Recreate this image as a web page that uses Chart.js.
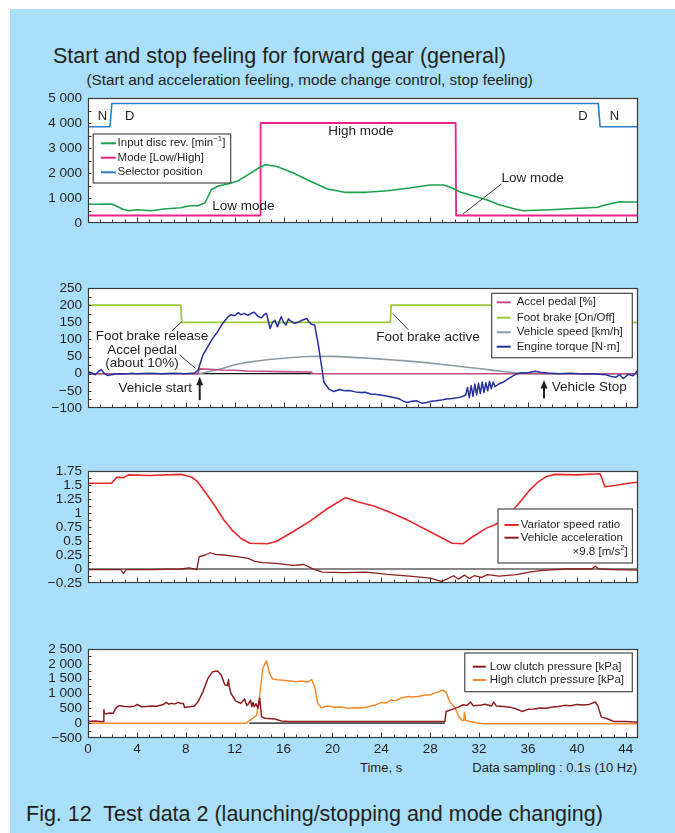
<!DOCTYPE html>
<html>
<head>
<meta charset="utf-8">
<script src="https://cdn.jsdelivr.net/npm/chart.js@4/dist/chart.umd.min.js"></script>
<style>
body { margin: 0; background: #fff; }
#page { position: relative; width: 675px; height: 833px; overflow: hidden; font-family: "Liberation Sans", Arial, Helvetica, sans-serif; color: #231f20; }
#blue { position: absolute; left: 10px; top: 9px; right: 0; bottom: 0; background: #a9dff8; }
canvas { position: absolute; left: 0; top: 0; }
.txt { position: absolute; white-space: nowrap; line-height: 1; }
</style>
</head>
<body>
<div id="page">
  <div id="blue"></div>
  <div class="txt" style="left:53px;top:46px;font-size:21.5px;">Start and stop feeling for forward gear (general)</div>
  <div class="txt" style="left:86.5px;top:72px;font-size:15.3px;">(Start and acceleration feeling, mode change control, stop feeling)</div>
  <div class="txt" style="left:360px;top:761px;font-size:13px;">Time, s</div>
  <div class="txt" style="right:38px;top:761px;font-size:13px;">Data sampling : 0.1s (10 Hz)</div>
  <div class="txt" style="left:26px;top:803.5px;font-size:21.5px;">Fig. 12&nbsp; Test data 2 (launching/stopping and mode changing)</div>
  <canvas id="c1" width="675" height="833"></canvas>
  <canvas id="c2" width="675" height="833"></canvas>
  <canvas id="c3" width="675" height="833"></canvas>
  <canvas id="c4" width="675" height="833"></canvas>
</div>
<script>
// ---- data (time in s) ----
const timeTicks = [0, 4, 8, 12, 16, 20, 24, 28, 32, 36, 40, 44];

// panel 1
const p1Ticks = [0, 1000, 2000, 3000, 4000, 5000];
const selT = [0, 1.8, 1.95, 41.75, 41.9, 45];
const selV = [3850, 3850, 4780, 4780, 3850, 3850];
const modeT = [0, 14.08, 14.12, 30.08, 30.12, 45];
const modeV = [300, 300, 4000, 4000, 300, 300];
const rpmT = [0, 1.0, 1.93, 2.36, 2.8, 3.3, 4.1, 5.2, 6.2, 7.6, 8.3, 9.0, 9.56, 10.1, 10.6, 11.5, 12.2, 13.1, 13.96, 14.5, 15.4, 16.8, 18.2, 19.6, 21.0, 22.75, 24.5, 26.3, 28.0, 29.1, 29.8, 30.5, 31.5, 32.6, 33.65, 34.7, 35.6, 36.6, 37.9, 39.3, 40.7, 41.7, 42.4, 43.5, 44.3, 45];
const rpmV = [747, 750, 760, 667, 560, 493, 533, 493, 560, 613, 693, 693, 800, 1333, 1467, 1573, 1667, 1933, 2200, 2333, 2267, 2000, 1667, 1360, 1227, 1227, 1293, 1400, 1520, 1520, 1400, 1227, 1093, 933, 733, 587, 493, 507, 533, 573, 600, 627, 733, 853, 840, 840];

// panel 2
const p2Ticks = [-100, -50, 0, 50, 100, 150, 200, 250];
const brakeT = [0, 7.6, 7.66, 24.74, 24.8, 41.7, 41.76, 45];
const brakeV = [200, 200, 150, 150, 200, 200, 150, 150];
const pedalT = [0, 9.0, 9.1, 10, 11, 12, 13, 14, 16, 18, 18.3, 18.35, 45];
const pedalV = [0, 0, 14, 13, 11, 10, 8, 7, 6, 5, 5, 0, 0];
const speedT = [0, 9, 9.5, 10, 11, 12, 13, 14, 15, 16, 17, 18, 19, 20, 21, 22, 23, 24, 25, 26, 27, 28, 29, 30, 31, 32, 33, 34, 35, 36, 37, 45];
const speedV = [0, 0, 3, 7, 15, 26, 33, 38, 42, 45, 48, 50, 51, 50.5, 49, 47, 45, 42.5, 40, 37.5, 34.5, 31, 27, 23, 19, 15, 10.5, 6.5, 3, 1, 0, 0];
const torqueT = [0, 0.3, 0.6, 0.9, 1.1, 1.3, 1.6, 2.0, 2.5, 3.0,
  3.5, 4.0, 5.0, 6.0, 7.0, 8.0, 8.7, 9.0, 9.4, 9.8,
  10.2, 10.6, 11.0, 11.45, 11.7, 12.0, 12.3, 12.5, 12.8, 13.1,
  13.4, 13.6, 13.9, 14.2, 14.4, 14.6, 14.9, 15.1, 15.3, 15.5,
  15.8, 16.0, 16.2, 16.4, 16.6, 16.9, 17.2, 17.5, 17.9, 18.1,
  18.3, 18.55, 18.8, 19.1, 19.3, 19.7, 20.1, 20.6, 21.0, 21.4,
  21.9, 22.3, 22.7, 23.1, 23.5, 23.9, 24.3, 24.7, 25.1, 25.5,
  25.8, 26.1, 26.5, 26.9, 27.3, 27.7, 28.1, 28.5, 28.9, 29.3,
  29.8, 30.4, 30.75, 30.9, 31.05, 31.2, 31.35, 31.5, 31.65, 31.8,
  31.95, 32.1, 32.25, 32.4, 32.55, 32.7, 32.85, 33.0, 33.15, 33.3,
  33.6, 34.0, 34.6, 35.1, 35.5, 35.9, 36.3, 36.6, 37.0, 37.6,
  38.5, 39.5, 40.5, 41.5, 42.0, 42.4, 42.8, 43.2, 43.5, 43.8,
  44.2, 44.6, 45];
const torqueV = [6, 2, -3, 8, 12, 2, -5, -2, 0, -1,
  1, 0, 1, 0, 1, 0, 2, 10, 54, 79,
  103, 122, 146, 166, 172, 169, 178, 172, 176, 170,
  177, 179, 168, 163, 172, 176, 132, 150, 156, 137,
  166, 150, 142, 160, 153, 147, 150, 156, 161, 150,
  144, 142, 93, 25, -25, -44, -52, -46, -50, -49,
  -53, -55, -54, -59, -60, -62, -64, -67, -70, -74,
  -80, -84, -80, -79, -86, -84, -80, -79, -77, -74,
  -72, -69, -65, -62, -40, -70, -35, -66, -30, -62,
  -28, -58, -24, -55, -26, -50, -22, -44, -24, -38,
  -30, -24, -10, 0, 3, 2, 5, 7, 4, 2,
  0, 1, -1, 0, -2, -3, -8, -10, -3, -14,
  -2, -6, 10];
const zero2T = [8.2, 18.3];

// panel 3
const p3Ticks = [-0.25, 0, 0.25, 0.5, 0.75, 1, 1.25, 1.5, 1.75];
const ratioT = [0, 1.93, 2.36, 2.9, 3.3, 5, 7.6, 8.0, 8.5, 9.0, 9.7, 10.4, 11.1, 11.85, 12.55, 13.25, 14.66, 15.4, 16.8, 18.2, 19.6, 21.06, 22.05, 23.45, 24.86, 26.27, 27.67, 29.08, 29.78, 30.66, 31.5, 32.6, 33.3, 34.0, 34.7, 35.4, 36.1, 36.8, 37.5, 38.2, 40, 41.9, 42.3, 43.1, 44.2, 45];
const ratioV = [1.53, 1.53, 1.64, 1.63, 1.68, 1.67, 1.69, 1.67, 1.64, 1.55, 1.34, 1.12, 0.88, 0.68, 0.54, 0.46, 0.45, 0.49, 0.67, 0.86, 1.08, 1.275, 1.2, 1.12, 1.0, 0.86, 0.7, 0.54, 0.46, 0.45, 0.58, 0.73, 0.79, 0.88, 1.03, 1.21, 1.4, 1.55, 1.65, 1.69, 1.68, 1.70, 1.47, 1.49, 1.53, 1.55];
const accelT = [0, 2.7, 2.9, 3.1, 5, 7.6, 8.3, 8.9, 9.1, 9.6, 10.0, 10.4, 11.1, 12.2, 13.1, 13.6, 14.3, 15.4, 16.8, 17.65, 18.5, 19.2, 21.0, 22.75, 24.5, 26.3, 28.0, 28.9, 29.4, 29.9, 30.3, 30.8, 31.2, 31.6, 32.2, 32.7, 33.65, 35.05, 36.1, 37.2, 39, 41.2, 41.5, 41.8, 43, 45];
const accelV = [-0.01, -0.01, -0.085, -0.01, -0.01, 0, 0.02, -0.01, 0.22, 0.25, 0.29, 0.26, 0.25, 0.22, 0.19, 0.14, 0.115, 0.1, 0.066, 0.08, -0.006, -0.055, -0.066, -0.055, -0.097, -0.127, -0.163, -0.22, -0.175, -0.12, -0.18, -0.11, -0.17, -0.12, -0.15, -0.1, -0.127, -0.1, -0.055, -0.024, 0, 0, 0.05, 0, -0.01, -0.02];
const zero3T = [0, 45];

// panel 4
const p4Ticks = [-500, 0, 500, 1000, 1500, 2000, 2500];
const lowT = [0, 0.5, 1.0, 1.25, 1.3, 1.35, 1.5, 1.8, 2.05, 2.2,
  2.4, 2.6, 3.0, 3.4, 3.8, 4.0, 4.4, 4.8, 5.2, 5.6,
  6.0, 6.2, 6.4, 6.6, 6.8, 7.1, 7.4, 7.6, 7.8, 7.9,
  8.3, 8.7, 9.0, 9.4, 9.8, 10.2, 10.6, 10.9, 11.2, 11.4,
  11.5, 11.55, 11.7, 12.1, 12.5, 12.8, 13.0, 13.1, 13.3, 13.4,
  13.5, 13.6, 13.75, 13.9, 14.05, 14.2, 14.45, 15.3, 15.8, 16.4,
  20, 25, 29.2, 29.3, 29.8, 30.3, 30.7, 31.0, 31.3, 31.5,
  32.0, 32.5, 33.0, 33.2, 33.4, 34.0, 34.5, 35.0, 35.5, 36.0,
  36.5, 37.0, 37.5, 38.0, 38.5, 39.0, 39.5, 40.0, 40.5, 41.0,
  41.5, 41.7, 42.0, 42.5, 43.0, 44.0, 45];
const lowV = [60, 70, 60, 60, 450, 330, 320, 340, 330, 450,
  560, 590, 560, 550, 570, 630, 555, 560, 580, 570,
  612, 640, 700, 640, 667, 650, 700, 660, 667, 530,
  550, 580, 720, 1055, 1500, 1737, 1760, 1625, 1290, 1265,
  1460, 1250, 1000, 745, 667, 810, 600, 630, 780, 555,
  700, 555, 650, 500, 840, 220, 165, 140, 74, 60,
  60, 60, 55, 395, 465, 540, 620, 600, 712, 590,
  600, 640, 577, 712, 580, 565, 540, 486, 396, 465,
  480, 510, 500, 543, 560, 600, 590, 633, 610, 633,
  712, 600, 204, 147, 57, 57, 34];
const highT = [0, 13.0, 13.1, 13.5, 13.8, 14.05, 14.3, 14.6, 14.85, 15.1,
  15.5, 16.4, 17.0, 17.5, 18.0, 18.3, 18.55, 18.8, 19.1, 19.6,
  20.2, 20.7, 21.3, 21.8, 22.4, 22.9, 23.5, 24.0, 24.4, 24.8,
  25.2, 25.6, 26.2, 26.5, 27.0, 27.5, 28.0, 28.5, 29.0, 29.3,
  29.6, 30.0, 30.3, 30.6, 30.75, 30.8, 30.9, 31.5, 32.3, 45];
const highV = [0, 0, 60, 170, 270, 950, 1850, 2100, 1680, 1490,
  1460, 1430, 1400, 1420, 1390, 1470, 1220, 667, 520, 580,
  540, 545, 500, 520, 510, 555, 610, 700, 680, 780,
  760, 850, 900, 880, 900, 940, 960, 1030, 1110, 1050,
  712, 540, 260, 90, 90, 370, 90, 34, -20, -20];
const zero4T = [13.2, 29.2];

// ---- drawing ----
const FONT = '"Liberation Sans", Arial, Helvetica, sans-serif';
const INK = '#231f20';
const W = 675, H = 833, PLOT_L = 88, PLOT_R = 638;
Chart.defaults.font.family = FONT;
Chart.defaults.color = INK;

const xy = (ts, vs) => ts.map((t, i) => ({ x: t, y: vs[i] }));

function fmtNum(v) {
  const a = Math.abs(v);
  const s = a >= 1000 ? String(a).replace(/\B(?=(\d{3})+(?!\d))/g, ' ') : String(+a.toFixed(2));
  return (v < 0 ? '\u2212' : '') + s;
}

// rich text: strings or {sup: '...'}
function partsWidth(ctx, parts, size) {
  let w = 0;
  parts.forEach(p => {
    ctx.font = (typeof p === 'string' ? size : size * 0.68) + 'px ' + FONT;
    w += ctx.measureText(typeof p === 'string' ? p : p.sup).width;
  });
  return w;
}
function drawParts(ctx, parts, x, y, size) {
  parts.forEach(p => {
    const sup = typeof p !== 'string';
    const s = sup ? p.sup : p;
    ctx.font = (sup ? size * 0.68 : size) + 'px ' + FONT;
    ctx.fillText(s, x, sup ? y - size * 0.35 : y);
    x += ctx.measureText(s).width;
  });
}

function framePlugin(p) {
  return {
    id: 'frame_' + p.id,
    beforeDraw(chart) {
      const a = chart.chartArea, ctx = chart.ctx;
      ctx.save();
      ctx.fillStyle = '#fff';
      ctx.fillRect(a.left, a.top, a.right - a.left, a.bottom - a.top);
      ctx.restore();
    },
    afterDatasetsDraw(chart) {
      const ctx = chart.ctx, a = chart.chartArea, sx = chart.scales.x, sy = chart.scales.y;
      const X = t => sx.getPixelForValue(t), Y = v => sy.getPixelForValue(v);
      ctx.save();
      ctx.strokeStyle = INK;
      ctx.fillStyle = INK;
      ctx.lineWidth = 0.9;
      (p.leaders || []).forEach(l => {
        ctx.beginPath();
        ctx.moveTo(X(l[0]), Y(l[1]));
        ctx.lineTo(X(l[2]), Y(l[3]));
        ctx.stroke();
      });
      (p.arrows || []).forEach(ar => {
        const x = X(ar[0]), y1 = Y(ar[1]), y2 = Y(ar[2]);
        ctx.lineWidth = 2;
        ctx.beginPath(); ctx.moveTo(x, y1); ctx.lineTo(x, y2 + 6); ctx.stroke();
        ctx.beginPath(); ctx.moveTo(x, y2); ctx.lineTo(x - 3.5, y2 + 8.5); ctx.lineTo(x + 3.5, y2 + 8.5); ctx.closePath(); ctx.fill();
      });
      ctx.textBaseline = 'middle';
      (p.notes || []).forEach(n => {
        ctx.font = (n.size || 13.5) + 'px ' + FONT;
        ctx.textAlign = n.align || 'center';
        ctx.fillText(n.s, X(n.t), Y(n.v));
      });

      const lg = p.legend;
      if (lg) {
        const lx = a.left + lg.x, ly = a.top + lg.y;
        ctx.fillStyle = '#fff';
        ctx.fillRect(lx, ly, lg.w, lg.h);
        ctx.strokeStyle = '#4a4a4a';
        ctx.lineWidth = 1.2;
        ctx.strokeRect(lx, ly, lg.w, lg.h);
        ctx.textAlign = 'left';
        lg.rows.forEach((r, i) => {
          const y = ly + lg.rowY[i];
          ctx.strokeStyle = r.color;
          ctx.lineWidth = 2;
          ctx.beginPath(); ctx.moveTo(lx + lg.line[0], y); ctx.lineTo(lx + lg.line[1], y); ctx.stroke();
          ctx.fillStyle = INK;
          drawParts(ctx, r.parts, lx + lg.text, y, 11.5);
        });
        (lg.extra || []).forEach(e => {
          ctx.fillStyle = INK;
          const w = partsWidth(ctx, e.parts, 11.5);
          drawParts(ctx, e.parts, lx + lg.w - e.right - w, ly + e.y, 11.5);
        });
      }

      // frame and inward ticks
      const L = Math.round(a.left) + 0.5, R = Math.round(a.right) - 0.5;
      const T = Math.round(a.top) + 0.5, B = Math.round(a.bottom) - 0.5;
      ctx.strokeStyle = '#3a3a3a';
      ctx.lineWidth = 1;
      ctx.beginPath();
      for (let t = 1; t < 45; t++) {
        const x = Math.round(X(t)) + 0.5;
        ctx.moveTo(x, B); ctx.lineTo(x, B - (t % 4 === 0 ? 5 : 3));
      }
      for (let v = p.min + p.minor; v < p.max - p.minor / 2; v += p.minor) {
        const y = Math.round(Y(v)) + 0.5;
        ctx.moveTo(L, y); ctx.lineTo(L + 3, y);
      }
      ctx.stroke();
      ctx.lineWidth = 1.2;
      ctx.strokeRect(L, T, R - L, B - T);
      ctx.restore();
    }
  };
}

function makePanel(p) {
  const datasets = p.series.map(s => ({
    data: xy(s.t, s.v),
    borderColor: s.color,
    borderWidth: s.width || 1.5,
    pointRadius: 0,
    tension: 0,
    fill: false,
    borderJoinStyle: 'round'
  }));
  const xAxisH = p.xLabels ? 22 : 0;
  return new Chart(document.getElementById(p.id), {
    type: 'line',
    data: { datasets },
    options: {
      responsive: false,
      animation: false,
      devicePixelRatio: 1,
      events: [],
      layout: { padding: { left: 0, right: W - PLOT_R, top: p.top, bottom: H - p.bottom - xAxisH } },
      plugins: { legend: { display: false }, tooltip: { enabled: false } },
      scales: {
        x: {
          type: 'linear', min: 0, max: 45, display: p.xLabels,
          grid: { display: false, drawTicks: false }, border: { display: false },
          afterBuildTicks: s => { s.ticks = timeTicks.map(v => ({ value: v })); },
          afterFit: s => { s.height = xAxisH; },
          ticks: { padding: 3, font: { size: 13.5 }, color: INK, maxRotation: 0, autoSkip: false }
        },
        y: {
          type: 'linear', min: p.min, max: p.max,
          grid: { display: false, drawTicks: false }, border: { display: false },
          afterBuildTicks: s => { s.ticks = p.ticks.map(v => ({ value: v })); },
          afterFit: s => { s.width = PLOT_L; },
          ticks: { padding: 6, font: { size: 13.5 }, color: INK, autoSkip: false, callback: v => fmtNum(v) }
        }
      }
    },
    plugins: [framePlugin(p)]
  });
}

makePanel({
  id: 'c1', top: 98, bottom: 223, min: 0, max: 5000, minor: 500, ticks: p1Ticks, xLabels: false,
  series: [
    { t: rpmT, v: rpmV, color: '#1aa14c', width: 1.6 },
    { t: modeT, v: modeV, color: '#ec1f8c', width: 1.8 },
    { t: selT, v: selV, color: '#2b7ec6', width: 1.6 }
  ],
  notes: [
    { t: 1.19, v: 4280, s: 'N', size: 13 }, { t: 3.41, v: 4280, s: 'D', size: 13 },
    { t: 40.5, v: 4280, s: 'D', size: 13 }, { t: 43.07, v: 4280, s: 'N', size: 13 },
    { t: 22.33, v: 3680, s: 'High mode' }, { t: 12.72, v: 650, s: 'Low mode' },
    { t: 36.38, v: 1790, s: 'Low mode' }
  ],
  leaders: [[33.82, 1560, 30.66, 350]],
  legend: {
    x: 5.2, y: 36, w: 137.5, h: 49, rowY: [9.3, 23.7, 38.3], line: [7.7, 22.7], text: 24.4,
    rows: [
      { color: '#1aa14c', parts: ['Input disc rev. [min', { sup: '\u22121' }, ']'] },
      { color: '#ec1f8c', parts: ['Mode [Low/High]'] },
      { color: '#2b7ec6', parts: ['Selector position'] }
    ]
  }
});

makePanel({
  id: 'c2', top: 288, bottom: 408, min: -100, max: 250, minor: 25, ticks: p2Ticks, xLabels: false,
  series: [
    { t: torqueT, v: torqueV, color: '#26309b', width: 1.5 },
    { t: pedalT, v: pedalV, color: '#bf4f82', width: 1.6 },
    { t: speedT, v: speedV, color: '#8e9aa0', width: 1.6 },
    { t: brakeT, v: brakeV, color: '#9dc93a', width: 1.8 },
    { t: zero2T, v: [0, 0], color: '#111', width: 1.2 }
  ],
  notes: [
    { t: 5.24, v: 108, s: 'Foot brake release' },
    { t: 4.42, v: 69, s: 'Accel pedal' },
    { t: 4.42, v: 30, s: '(about 10%)' },
    { t: 8.51, v: -42, s: 'Vehicle start', align: 'right' },
    { t: 27.82, v: 105, s: 'Foot brake active' },
    { t: 37.94, v: -41, s: 'Vehicle Stop', align: 'left' }
  ],
  leaders: [[7.65, 151, 6.87, 125], [7.5, 55, 8.78, 16], [24.93, 176, 26.21, 128]],
  arrows: [[9.14, -77, -9], [37.31, -72, -18]],
  legend: {
    x: 403.7, y: 5.3, w: 140.6, h: 64.4, rowY: [9, 24.4, 39, 53.4], line: [5, 19], text: 25,
    rows: [
      { color: '#bf4f82', parts: ['Accel pedal [%]'] },
      { color: '#9dc93a', parts: ['Foot brake [On/Off]'] },
      { color: '#8e9aa0', parts: ['Vehicle speed [km/h]'] },
      { color: '#26309b', parts: ['Engine torque [N\u00b7m]'] }
    ]
  }
});

makePanel({
  id: 'c3', top: 471, bottom: 583, min: -0.25, max: 1.75, minor: 0.125, ticks: p3Ticks, xLabels: false,
  series: [
    { t: ratioT, v: ratioV, color: '#e8282c', width: 1.6 },
    { t: accelT, v: accelV, color: '#8b1e1e', width: 1.3 },
    { t: zero3T, v: [0, 0], color: '#111', width: 1.1 }
  ],
  legend: {
    x: 410, y: 38, w: 134.4, h: 54, rowY: [16, 28.7], line: [6.4, 20.6], text: 22.7,
    rows: [
      { color: '#e8282c', parts: ['Variator speed ratio'] },
      { color: '#8b1e1e', parts: ['Vehicle acceleration'] }
    ],
    extra: [{ parts: ['\u00d79.8 [m/s', { sup: '2' }, ']'], right: 4.7, y: 42.7 }]
  }
});

makePanel({
  id: 'c4', top: 649, bottom: 738, min: -500, max: 2500, minor: 250, ticks: p4Ticks, xLabels: true,
  series: [
    { t: lowT, v: lowV, color: '#8e1e22', width: 1.5 },
    { t: highT, v: highV, color: '#f38a2c', width: 1.5 },
    { t: zero4T, v: [0, 0], color: '#111', width: 1.1 }
  ],
  legend: {
    x: 376.8, y: 4, w: 167.5, h: 38.7, rowY: [13.7, 27], line: [8, 21], text: 25,
    rows: [
      { color: '#8e1e22', parts: ['Low clutch pressure [kPa]'] },
      { color: '#f38a2c', parts: ['High clutch pressure [kPa]'] }
    ]
  }
});
</script>
</body>
</html>
